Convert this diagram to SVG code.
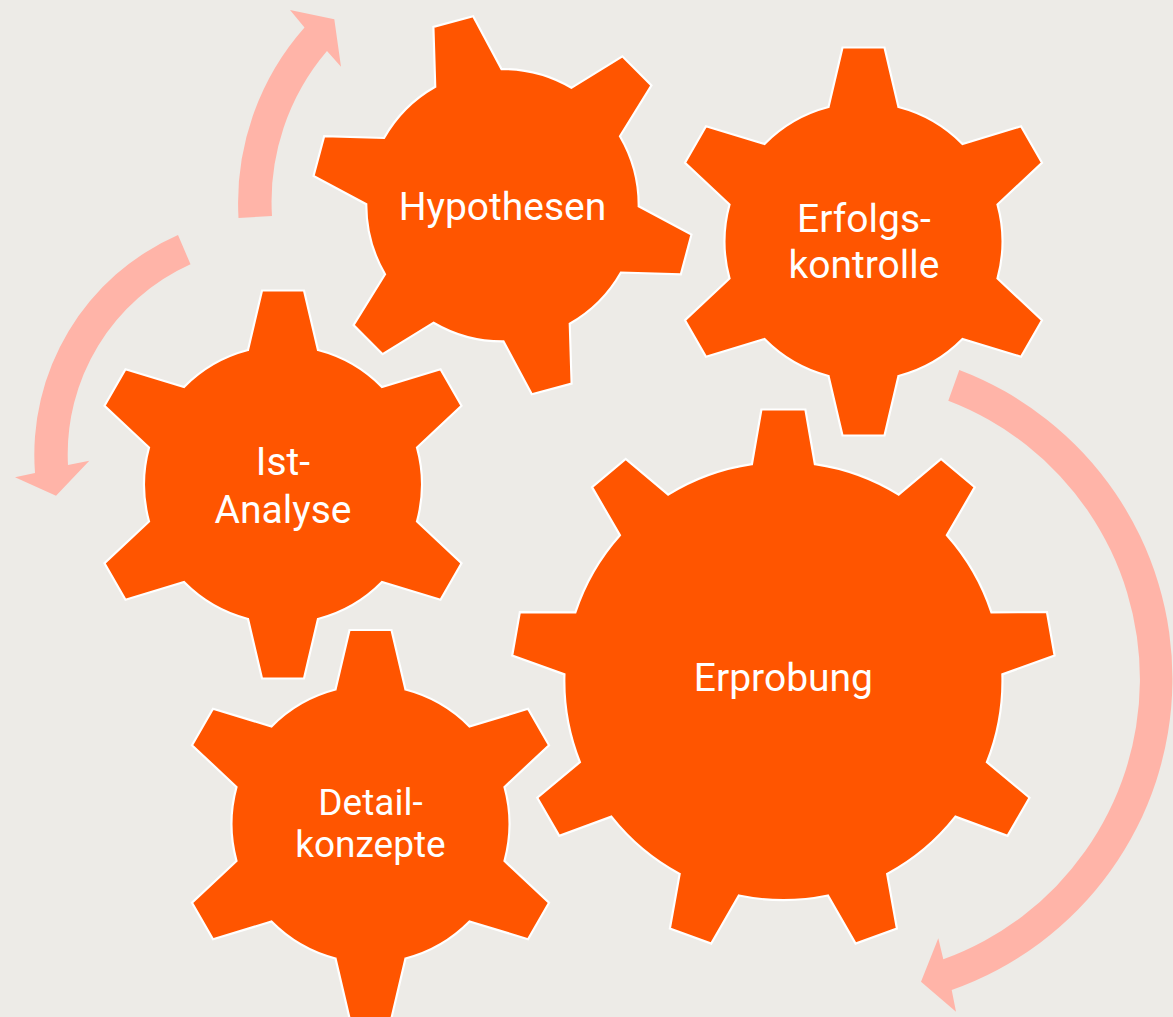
<svg xmlns="http://www.w3.org/2000/svg" xmlns:xlink="http://www.w3.org/1999/xlink" width="1173" height="1017" viewBox="0 0 1173 1017">
<style>
.gear{fill:#FF5500;stroke:#FFFFFF;stroke-width:2.2;stroke-linejoin:miter}
.arrow{fill:#FFB4A8;stroke:none}
.lbl{fill:#FFFFFF;font-family:Roboto,"Open Sans","Liberation Sans",sans-serif;font-weight:400;font-size:39px;text-anchor:middle}
.sm{font-size:37px}
</style>
<defs>
<path id="gear6" d="M-35,-134.5 L-21,-194 L21,-194 L35,-134.5 A139,139 0 0 1 98.98,-97.56 L157.51,-115.19 L178.51,-78.81 L133.98,-36.94 A139,139 0 0 1 133.98,36.94 L178.51,78.81 L157.51,115.19 L98.98,97.56 A139,139 0 0 1 35,134.5 L21,194 L-21,194 L-35,134.5 A139,139 0 0 1 -98.98,97.56 L-157.51,115.19 L-178.51,78.81 L-133.98,36.94 A139,139 0 0 1 -133.98,-36.94 L-178.51,-78.81 L-157.51,-115.19 L-98.98,-97.56 A139,139 0 0 1 -35,-134.5 Z"/>
<path id="gear9" d="M-31.5,-216.8 L-22,-271.5 L22,-271.5 L31.5,-216.8 A219.1,219.1 0 0 1 115.23,-186.33 L157.67,-222.12 L191.37,-193.84 L163.49,-145.83 A219.1,219.1 0 0 1 208.04,-68.67 L263.56,-68.82 L271.2,-25.48 L218.98,-6.63 A219.1,219.1 0 0 1 203.51,81.12 L246.13,116.7 L224.13,154.8 L172.01,135.68 A219.1,219.1 0 0 1 103.75,192.95 L113.53,247.61 L72.19,262.65 L44.55,214.49 A219.1,219.1 0 0 1 -44.55,214.49 L-72.19,262.65 L-113.53,247.61 L-103.75,192.95 A219.1,219.1 0 0 1 -172.01,135.68 L-224.13,154.8 L-246.13,116.7 L-203.51,81.12 A219.1,219.1 0 0 1 -218.98,-6.63 L-271.2,-25.48 L-263.56,-68.82 L-208.04,-68.67 A219.1,219.1 0 0 1 -163.49,-145.83 L-191.37,-193.84 L-157.67,-222.12 L-115.23,-186.33 A219.1,219.1 0 0 1 -31.5,-216.8 Z"/>
</defs>
<rect x="0" y="0" width="1173" height="1017" fill="#EDEBE7"/>
<g id="connectors">
<path class="arrow" d="M238.5,218 A265,265 0 0 1 304.5,27.5 L290,10 L334.3,19.3 L341,66.7 L327,51 A232,232 0 0 0 272,216 Z"/>
<path class="arrow" d="M178,235 A240,240 0 0 0 35,473 L15,477.3 L56,495.7 L89.3,460.7 L68,465 A208,208 0 0 1 190.5,264.3 Z"/>
<path class="arrow" d="M959.3,370 A330,330 0 0 1 951.7,990 L956,1011.7 L921,981.7 L938.3,938.3 L943.3,959.3 A298,298 0 0 0 948.3,400.7 Z"/>
</g>
<g id="hypothesen">
<use xlink:href="#gear6" href="#gear6" class="gear" transform="translate(502.5,205.25) rotate(-15) scale(0.98)"/>
<text class="lbl" x="502.5" y="220">Hypothesen</text>
</g>
<g id="erfolgskontrolle">
<use xlink:href="#gear6" href="#gear6" class="gear" transform="translate(863.5,241.5)"/>
<text class="lbl" x="864" y="231.5">Erfolgs-</text>
<text class="lbl" x="864" y="278">kontrolle</text>
</g>
<g id="ist-analyse">
<use xlink:href="#gear6" href="#gear6" class="gear" transform="translate(283,484.5)"/>
<text class="lbl" x="283" y="475">Ist-</text>
<text class="lbl" x="283" y="523">Analyse</text>
</g>
<g id="detailkonzepte">
<use xlink:href="#gear6" href="#gear6" class="gear" transform="translate(370.5,824)"/>
<text class="lbl sm" x="370.5" y="815">Detail-</text>
<text class="lbl sm" x="370.5" y="857">konzepte</text>
</g>
<g id="erprobung">
<use xlink:href="#gear9" href="#gear9" class="gear" transform="translate(783.4,681)"/>
<text class="lbl" x="783.4" y="690.5">Erprobung</text>
</g>
</svg>
